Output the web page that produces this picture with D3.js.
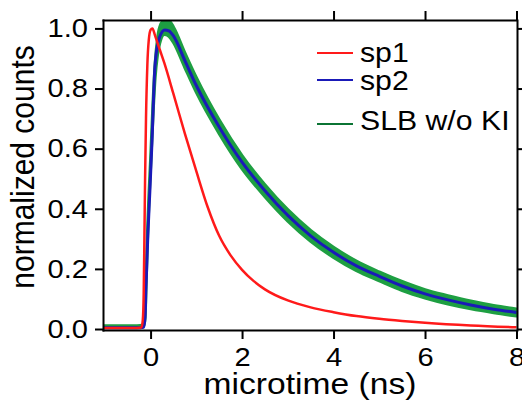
<!DOCTYPE html>
<html>
<head>
<meta charset="utf-8">
<script src="https://cdn.jsdelivr.net/npm/d3@7"></script>
<style>
  body { margin: 0; background: #fff; }
  svg { display: block; }
  text { font-family: "Liberation Sans", Arial, sans-serif; fill: #000; }
  .axis path, .axis line { stroke: #000; stroke-width: 2; }
</style>
</head>
<body>
<div id="chart"></div>
<script>
// values
var sp1X = [-1.04, -0.4, -0.2, -0.17, -0.15, -0.135, -0.12, -0.1, -0.07, -0.04, 0.0, 0.04, 0.1, 0.2, 0.3, 0.5, 0.75, 1.0, 1.25, 1.5, 1.75, 2.0, 2.25, 2.5, 3.0, 3.5, 4.0, 4.5, 5.0, 5.5, 6.0, 7.0, 8.0];
var sp1Y = [0.003, 0.003, 0.005, 0.03, 0.12, 0.3, 0.5, 0.7, 0.88, 0.96, 0.995, 1.0, 0.975, 0.93, 0.885, 0.782, 0.65, 0.525, 0.405, 0.31, 0.245, 0.197, 0.16, 0.132, 0.095, 0.072, 0.056, 0.043, 0.034, 0.027, 0.021, 0.012, 0.006];

var sp2X = [-1.04, -0.3, -0.15, -0.12, -0.1, -0.06, -0.015, 0.03, 0.094, 0.13, 0.2, 0.31, 0.4, 0.5, 0.75, 1.0, 1.5, 2.0, 2.5, 3.0, 3.5, 4.0, 4.5, 5.0, 5.5, 6.0, 6.5, 7.0, 7.5, 8.0];
var sp2Y = [0.004, 0.004, 0.006, 0.04, 0.14, 0.31, 0.46, 0.62, 0.87, 0.925, 0.972, 0.995, 0.992, 0.975, 0.893, 0.81, 0.672, 0.555, 0.46, 0.378, 0.31, 0.255, 0.21, 0.175, 0.143, 0.117, 0.097, 0.08, 0.066, 0.055];

// measured data shown as a noisy band: lower and upper edge
var slbX  = [-1.04, -0.3, -0.15, -0.12, -0.1, -0.07, -0.04, 0.0, 0.05, 0.1, 0.15, 0.2, 0.3, 0.4, 0.5, 0.75, 1.0, 1.5, 2.0, 2.5, 3.0, 3.5, 4.0, 4.5, 5.0, 5.5, 6.0, 6.5, 7.0, 7.5, 8.0];
var slbLo = [0.009, 0.009, 0.01, 0.035, 0.13, 0.285, 0.405, 0.535, 0.7, 0.835, 0.91, 0.95, 0.98, 0.974, 0.953, 0.869, 0.787, 0.65, 0.533, 0.44, 0.359, 0.292, 0.238, 0.194, 0.16, 0.128, 0.103, 0.083, 0.067, 0.054, 0.043];
var slbHi = [0.011, 0.011, 0.014, 0.055, 0.16, 0.315, 0.435, 0.565, 0.745, 0.885, 0.965, 1.005, 1.028, 1.026, 1.005, 0.919, 0.837, 0.696, 0.577, 0.48, 0.397, 0.328, 0.272, 0.226, 0.19, 0.158, 0.131, 0.111, 0.093, 0.078, 0.067];

var xTicks = [0, 2, 4, 6, 8];
var yTicks = [0, 0.2, 0.4, 0.6, 0.8, 1.0];
var legendLabels = ["sp1", "sp2", "SLB w/o KI"];
var legendColors = ["#ff1a1a", "#1a1ab8", "#0b7434"];

var width = 522, height = 403;
var plotL = 103, plotR = 517, plotT = 20, plotB = 330;
var sx = 1.12; // glyphs in the picture are a bit wide

var svg = d3.select("#chart").append("svg")
    .attr("width", width)
    .attr("height", height);

var x = d3.scaleLinear().domain([-1.04, 8]).range([plotL, plotR - 0.5]);
var y = d3.scaleLinear().domain([-0.0033, 1.028]).range([plotB, plotT]);

function stretch(sel) {
  sel.each(function() {
    var t = d3.select(this);
    var x0 = +t.attr("x") || 0;
    t.attr("x", x0 / sx).attr("transform", "scale(" + sx + ",1)");
  });
}

svg.append("clipPath").attr("id", "plotClip")
  .append("rect")
    .attr("x", plotL).attr("y", plotT)
    .attr("width", plotR - plotL).attr("height", plotB - plotT);

var plot = svg.append("g").attr("clip-path", "url(#plotClip)");

var band = d3.area()
    .x(function(d) { return x(slbX[d]); })
    .y0(function(d) { return y(slbLo[d]); })
    .y1(function(d) { return y(slbHi[d]); })
    .curve(d3.curveMonotoneX);

plot.append("path")
    .attr("d", band(d3.range(slbX.length)))
    .attr("fill", "#1e9f42")
    .attr("stroke", "#1e9f42")
    .attr("stroke-width", 3)
    .attr("stroke-linejoin", "round");

function curve(xs, ys) {
  return d3.line()
    .x(function(d) { return x(xs[d]); })
    .y(function(d) { return y(ys[d]); })
    .curve(d3.curveMonotoneX)(d3.range(xs.length));
}

plot.append("path")
    .attr("d", curve(sp2X, sp2Y))
    .attr("fill", "none")
    .attr("stroke", legendColors[1])
    .attr("stroke-width", 3);

plot.append("path")
    .attr("d", curve(sp1X, sp1Y))
    .attr("fill", "none")
    .attr("stroke", legendColors[0])
    .attr("stroke-width", 2.5);

// axes on all four sides, ticks pointing out
var gx = svg.append("g").attr("class", "axis")
    .attr("transform", "translate(0," + plotB + ")")
    .call(d3.axisBottom(x).tickValues(xTicks).tickSize(9).tickPadding(9).tickSizeOuter(0));
gx.selectAll("text").style("font-size", "26px");
stretch(gx.selectAll("text"));

svg.append("g").attr("class", "axis")
    .attr("transform", "translate(0," + plotT + ")")
    .call(d3.axisTop(x).tickValues(xTicks).tickSize(9).tickSizeOuter(0).tickFormat(""));

var gy = svg.append("g").attr("class", "axis")
    .attr("transform", "translate(" + plotL + ",0)")
    .call(d3.axisLeft(y).tickValues(yTicks).tickSize(8).tickPadding(7).tickSizeOuter(0).tickFormat(d3.format(".1f")));
gy.selectAll("text").style("font-size", "26px");
stretch(gy.selectAll("text"));

svg.append("g").attr("class", "axis")
    .attr("transform", "translate(" + plotR + ",0)")
    .call(d3.axisRight(y).tickValues(yTicks).tickSize(8).tickSizeOuter(0).tickFormat(""));

svg.selectAll(".axis .domain").attr("stroke-linecap", "square");

// titles
var xTitle = svg.append("text")
    .attr("x", (plotL + plotR) / 2)
    .attr("y", 394)
    .attr("text-anchor", "middle")
    .style("font-size", "30px")
    .text("microtime (ns)");
stretch(xTitle);

svg.append("text")
    .attr("transform", "translate(34," + ((plotT + plotB) / 2 - 8) + ") scale(" + sx + ",1) rotate(-90)")
    .attr("text-anchor", "middle")
    .style("font-size", "30px")
    .text("normalized counts");

// legend
var legendRows = [{line: 53, base: 62}, {line: 80, base: 90}, {line: 124, base: 130}];
var legend = svg.append("g");
legendLabels.forEach(function(label, i) {
  legend.append("line")
      .attr("x1", 317).attr("x2", 353)
      .attr("y1", legendRows[i].line).attr("y2", legendRows[i].line)
      .attr("stroke", legendColors[i])
      .attr("stroke-width", 2);
  var t = legend.append("text")
      .attr("x", 360)
      .attr("y", legendRows[i].base)
      .style("font-size", "27px")
      .text(label);
  stretch(t);
});
</script>
</body>
</html>
